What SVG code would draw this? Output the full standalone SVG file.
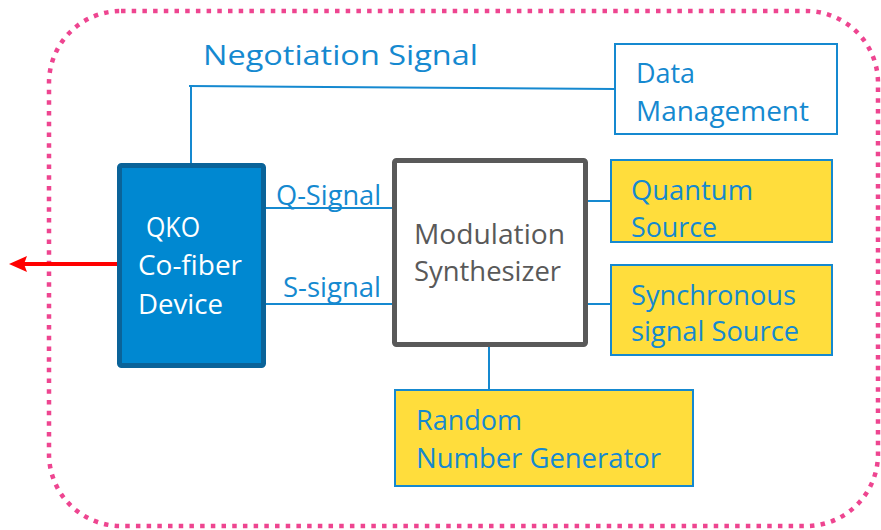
<svg xmlns="http://www.w3.org/2000/svg" width="881" height="530" viewBox="0 0 881 530">
<defs>
<style>
.t{font-family:"Open Sans","Liberation Sans",sans-serif;font-size:28px;fill:#1589D0}
.w{fill:#FFFFFF}
.g{fill:#595959}
.c{stroke:#1589D0;stroke-width:2;fill:none}
.y{fill:#FFDD3C;stroke:#1589D0;stroke-width:2}
</style>
</defs>
<rect x="0" y="0" width="881" height="530" fill="#FFFFFF"/>
<rect id="frame" x="49" y="11" width="829" height="515" rx="72" ry="72" fill="none" stroke="#EE4590" stroke-width="4.5" stroke-dasharray="4.5 6.2"/>
<g id="connectors">
<polyline class="c" points="189,86 615,89"/>
<line class="c" x1="191" y1="87" x2="191" y2="163"/>
<line class="c" x1="266" y1="208" x2="392" y2="208"/>
<line class="c" x1="266" y1="304" x2="392" y2="304"/>
<line class="c" x1="587" y1="201" x2="611" y2="201"/>
<line class="c" x1="582" y1="304" x2="611" y2="304"/>
<line class="c" x1="489" y1="346" x2="489" y2="390"/>
<line x1="117" y1="264" x2="24" y2="264" stroke="#FF0000" stroke-width="4"/>
<polygon points="9,264 27,256 24,264 27,272" fill="#FF0000"/>
</g>
<text id="neg-label" class="t" x="203" y="65" font-size="33" textLength="275" lengthAdjust="spacingAndGlyphs">Negotiation Signal</text>
<text class="t" x="276" y="205" textLength="105" lengthAdjust="spacingAndGlyphs">Q-Signal</text>
<text class="t" x="283" y="297" textLength="98" lengthAdjust="spacingAndGlyphs">S-signal</text>
<g id="qko">
<rect x="119.5" y="165.5" width="144" height="200" rx="2" fill="#0088D1" stroke="#0A6399" stroke-width="5"/>
<text class="t w" x="146" y="237" textLength="54" lengthAdjust="spacingAndGlyphs">QKO</text>
<text class="t w" x="138" y="275" textLength="104" lengthAdjust="spacingAndGlyphs">Co-fiber</text>
<text class="t w" x="138" y="314" textLength="85" lengthAdjust="spacingAndGlyphs">Device</text>
</g>
<g id="modulation">
<rect x="394.5" y="160.5" width="191" height="184" rx="2" fill="#FFFFFF" stroke="#595959" stroke-width="5"/>
<text class="t g" x="414" y="244" textLength="151" lengthAdjust="spacingAndGlyphs">Modulation</text>
<text class="t g" x="414" y="281" textLength="147" lengthAdjust="spacingAndGlyphs">Synthesizer</text>
</g>
<g id="data-mgmt">
<rect x="615" y="44" width="222" height="90" fill="#FFFFFF" stroke="#1589D0" stroke-width="2"/>
<text class="t" x="636" y="83" textLength="59" lengthAdjust="spacingAndGlyphs">Data</text>
<text class="t" x="636" y="121" textLength="173" lengthAdjust="spacingAndGlyphs">Management</text>
</g>
<g id="quantum">
<rect class="y" x="611" y="160" width="221" height="82"/>
<text class="t" x="631" y="200" textLength="122" lengthAdjust="spacingAndGlyphs">Quantum</text>
<text class="t" x="631" y="237" textLength="86" lengthAdjust="spacingAndGlyphs">Source</text>
</g>
<g id="sync">
<rect class="y" x="611" y="265" width="221" height="90"/>
<text class="t" x="631" y="305" textLength="165" lengthAdjust="spacingAndGlyphs">Synchronous</text>
<text class="t" x="631" y="341" textLength="168" lengthAdjust="spacingAndGlyphs">signal Source</text>
</g>
<g id="rng">
<rect class="y" x="395" y="390" width="298" height="96"/>
<text class="t" x="416" y="430" textLength="106" lengthAdjust="spacingAndGlyphs">Random</text>
<text class="t" x="416" y="468" textLength="245" lengthAdjust="spacingAndGlyphs">Number Generator</text>
</g>
</svg>
